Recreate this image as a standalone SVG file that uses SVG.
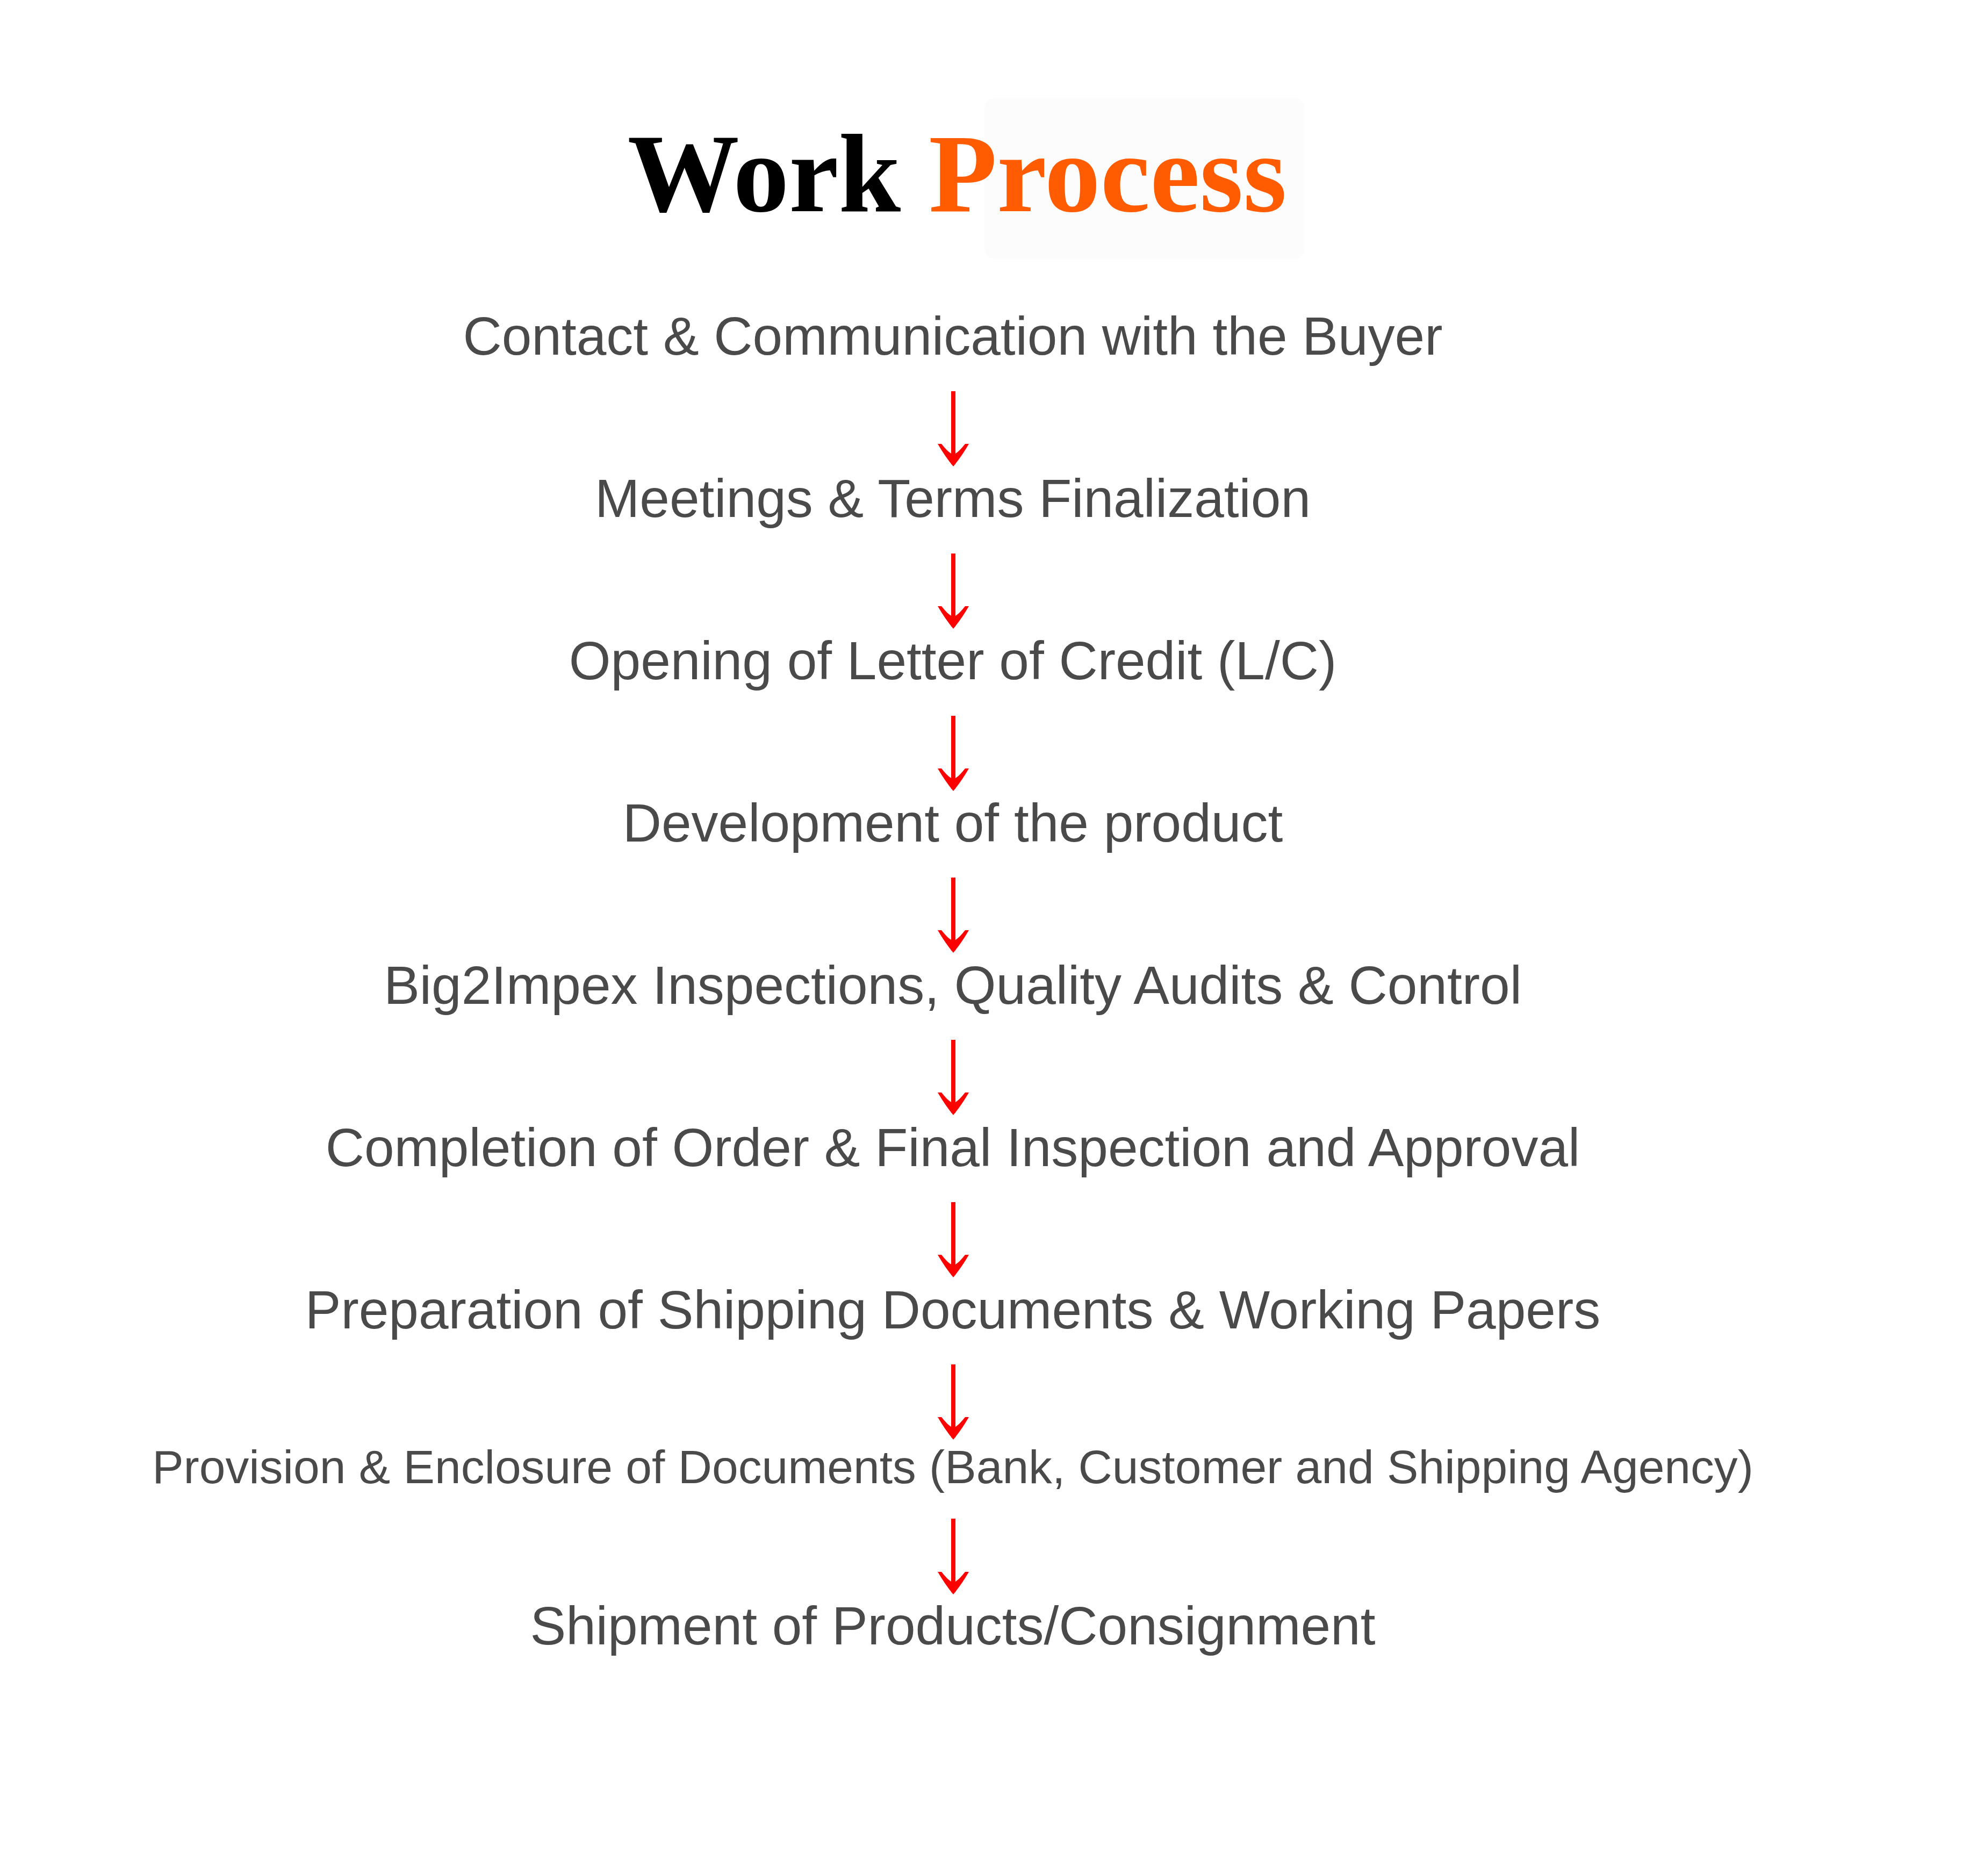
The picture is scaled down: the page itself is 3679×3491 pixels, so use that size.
<svg xmlns="http://www.w3.org/2000/svg" width="3679" height="3491" viewBox="0 0 3679 3491">
<style>
.title{font-family:"Liberation Serif","Times New Roman",serif;font-weight:bold;font-size:208px}
.step{font-family:"Liberation Sans",Arial,sans-serif;font-size:100px;fill:#4a4a4a;text-anchor:middle}
.conn{stroke:#ff0000;stroke-width:8;fill:none}
</style>
<defs>
<marker id="ah" markerUnits="userSpaceOnUse" markerWidth="42" markerHeight="58" refX="38" refY="29" orient="auto" viewBox="0 0 42 58">
<path d="M0,0 Q24,14 42,29 Q24,44 0,58 L0,51 Q14,40 18,33 L18,25 Q14,18 0,7 Z" fill="#ff0000"/>
</marker>
</defs>
<rect width="3679" height="3491" fill="#ffffff"/>
<rect x="1832" y="182" width="596" height="300" rx="20" fill="#fcfcfc"/>
<g id="title">
<text class="title" x="1781" y="393" text-anchor="middle"><tspan fill="#000000">Work </tspan><tspan fill="#ff5b00">Process</tspan></text>
</g>
<g id="connectors">
<line class="conn" x1="1774" y1="728" x2="1774" y2="864" marker-end="url(#ah)"/>
<line class="conn" x1="1774" y1="1030" x2="1774" y2="1166" marker-end="url(#ah)"/>
<line class="conn" x1="1774" y1="1332" x2="1774" y2="1468" marker-end="url(#ah)"/>
<line class="conn" x1="1774" y1="1633" x2="1774" y2="1769" marker-end="url(#ah)"/>
<line class="conn" x1="1774" y1="1935" x2="1774" y2="2071" marker-end="url(#ah)"/>
<line class="conn" x1="1774" y1="2237" x2="1774" y2="2373" marker-end="url(#ah)"/>
<line class="conn" x1="1774" y1="2539" x2="1774" y2="2675" marker-end="url(#ah)"/>
<line class="conn" x1="1774" y1="2826" x2="1774" y2="2963" marker-end="url(#ah)"/>
</g>
<g id="n1"><text class="step" x="1773" y="660">Contact &amp; Communication with the Buyer</text></g>
<g id="n2"><text class="step" x="1773" y="962">Meetings &amp; Terms Finalization</text></g>
<g id="n3"><text class="step" x="1773" y="1264">Opening of Letter of Credit (L/C)</text></g>
<g id="n4"><text class="step" x="1773" y="1566">Development of the product</text></g>
<g id="n5"><text class="step" x="1773" y="1868">Big2Impex Inspections, Quality Audits &amp; Control</text></g>
<g id="n6"><text class="step" x="1773" y="2170">Completion of Order &amp; Final Inspection and Approval</text></g>
<g id="n7"><text class="step" x="1773" y="2472">Preparation of Shipping Documents &amp; Working Papers</text></g>
<g id="n8"><text class="step" x="1773" y="2760" style="font-size:87.6px">Provision &amp; Enclosure of Documents (Bank, Customer and Shipping Agency)</text></g>
<g id="n9"><text class="step" x="1773" y="3060">Shipment of Products/Consignment</text></g>
</svg>
